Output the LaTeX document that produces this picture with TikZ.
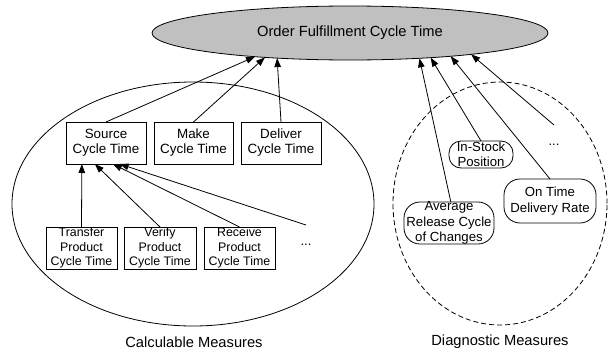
\documentclass[tikz,border=0pt]{standalone}
\usepackage{fontspec}
\setmainfont{Liberation Sans}
\usetikzlibrary{shapes.geometric,arrows.meta}
\begin{document}
\begin{tikzpicture}[x=1pt,y=-1pt,
  every node/.style={inner sep=0pt,outer sep=0pt},
  conn/.style={line width=0.8pt,-{Triangle[length=9pt,width=6.5pt]}},
  bigtxt/.style={font=\fontsize{14.7}{17}\selectfont},
  midbox/.style={draw,line width=0.8pt,minimum width=80pt,minimum height=42pt,align=center,font=\fontsize{13.4}{15}\selectfont},
  smallbox/.style={draw,line width=0.8pt,minimum width=71pt,minimum height=42pt,align=center,font=\fontsize{12.4}{14.5}\selectfont},
  rbox/.style={draw,line width=0.8pt,rounded corners=16pt},
  rtxt/.style={align=center,font=\fontsize{13.2}{15.5}\selectfont},
  dotsnode/.style={minimum height=40pt,minimum width=20pt,font=\fontsize{13}{15}\selectfont}
]
\useasboundingbox (0,0) rectangle (608,351);
\definecolor{topgray}{RGB}{192,192,192}
% groups
\node[draw,ellipse,line width=0.8pt,minimum width=362pt,minimum height=244pt] (calc) at (193,204) {};
\node[draw,ellipse,dashed,dash pattern=on 5pt off 3pt,line width=0.8pt,minimum width=214pt,minimum height=243pt] (diag) at (500,203.5) {};
\node[bigtxt] (calclbl) at (194,342) {Calculable Measures};
\node[bigtxt] (diaglbl) at (500,342) {Diagnostic Measures};
% top
\node[draw,ellipse,fill=topgray,line width=0.8pt,minimum width=396pt,minimum height=54pt,bigtxt] (top) at (350,33) {Order Fulfillment Cycle Time};
% level 1
\node[midbox] (src) at (106,143) {Source\\Cycle Time};
\node[midbox,minimum width=79pt] (make) at (193.5,143) {Make\\Cycle Time};
\node[midbox] (deliv) at (281,143) {Deliver\\Cycle Time};
% level 2
\node[smallbox] (transfer) at (81.5,248) {Transfer\\Product\\Cycle Time};
\node[smallbox,minimum width=72pt] (verify) at (160,248) {Verify\\Product\\Cycle Time};
\node[smallbox] (receive) at (239.5,248) {Receive\\Product\\Cycle Time};
\node[dotsnode] (ldots) at (306,245) {...};
% diagnostic
\node[rbox,rounded corners=12pt,minimum width=64pt,minimum height=27pt] (instock) at (481,154.5) {};
\node[rtxt] (instocktxt) at (instock.center) {In-Stock\\Position};
\node[rbox,minimum width=92pt,minimum height=44pt] (ontime) at (550,201) {};
\node[rtxt] (ontimetxt) at (ontime.center) {On Time\\Delivery Rate};
\node[rbox,minimum width=90pt,minimum height=42pt] (avg) at (449,223) {};
\node[rtxt] (avgtxt) at (avg.center) {Average\\Release Cycle\\of Changes};
\node[dotsnode] (rdots) at (554,145) {...};
% connectors
\draw[conn] (src.north) -- (top.194);
\draw[conn] (make.north) -- (top.196.5);
\draw[conn] (deliv.north) -- (top.199);
\draw[conn] (transfer.north) -- (src.221);
\draw[conn] (verify.north) -- (src.242.4);
\draw[conn] (receive.north) -- (src.288.4);
\draw[conn] (ldots.north) -- (src.303.7);
\draw[conn] (avg.85) -- (top.340);
\draw[conn] (instock.north) -- (top.343.7);
\draw[conn] (ontime.north) -- (top.347.6);
\draw[conn] (rdots.north) -- (top.350);
\end{tikzpicture}
\end{document}
